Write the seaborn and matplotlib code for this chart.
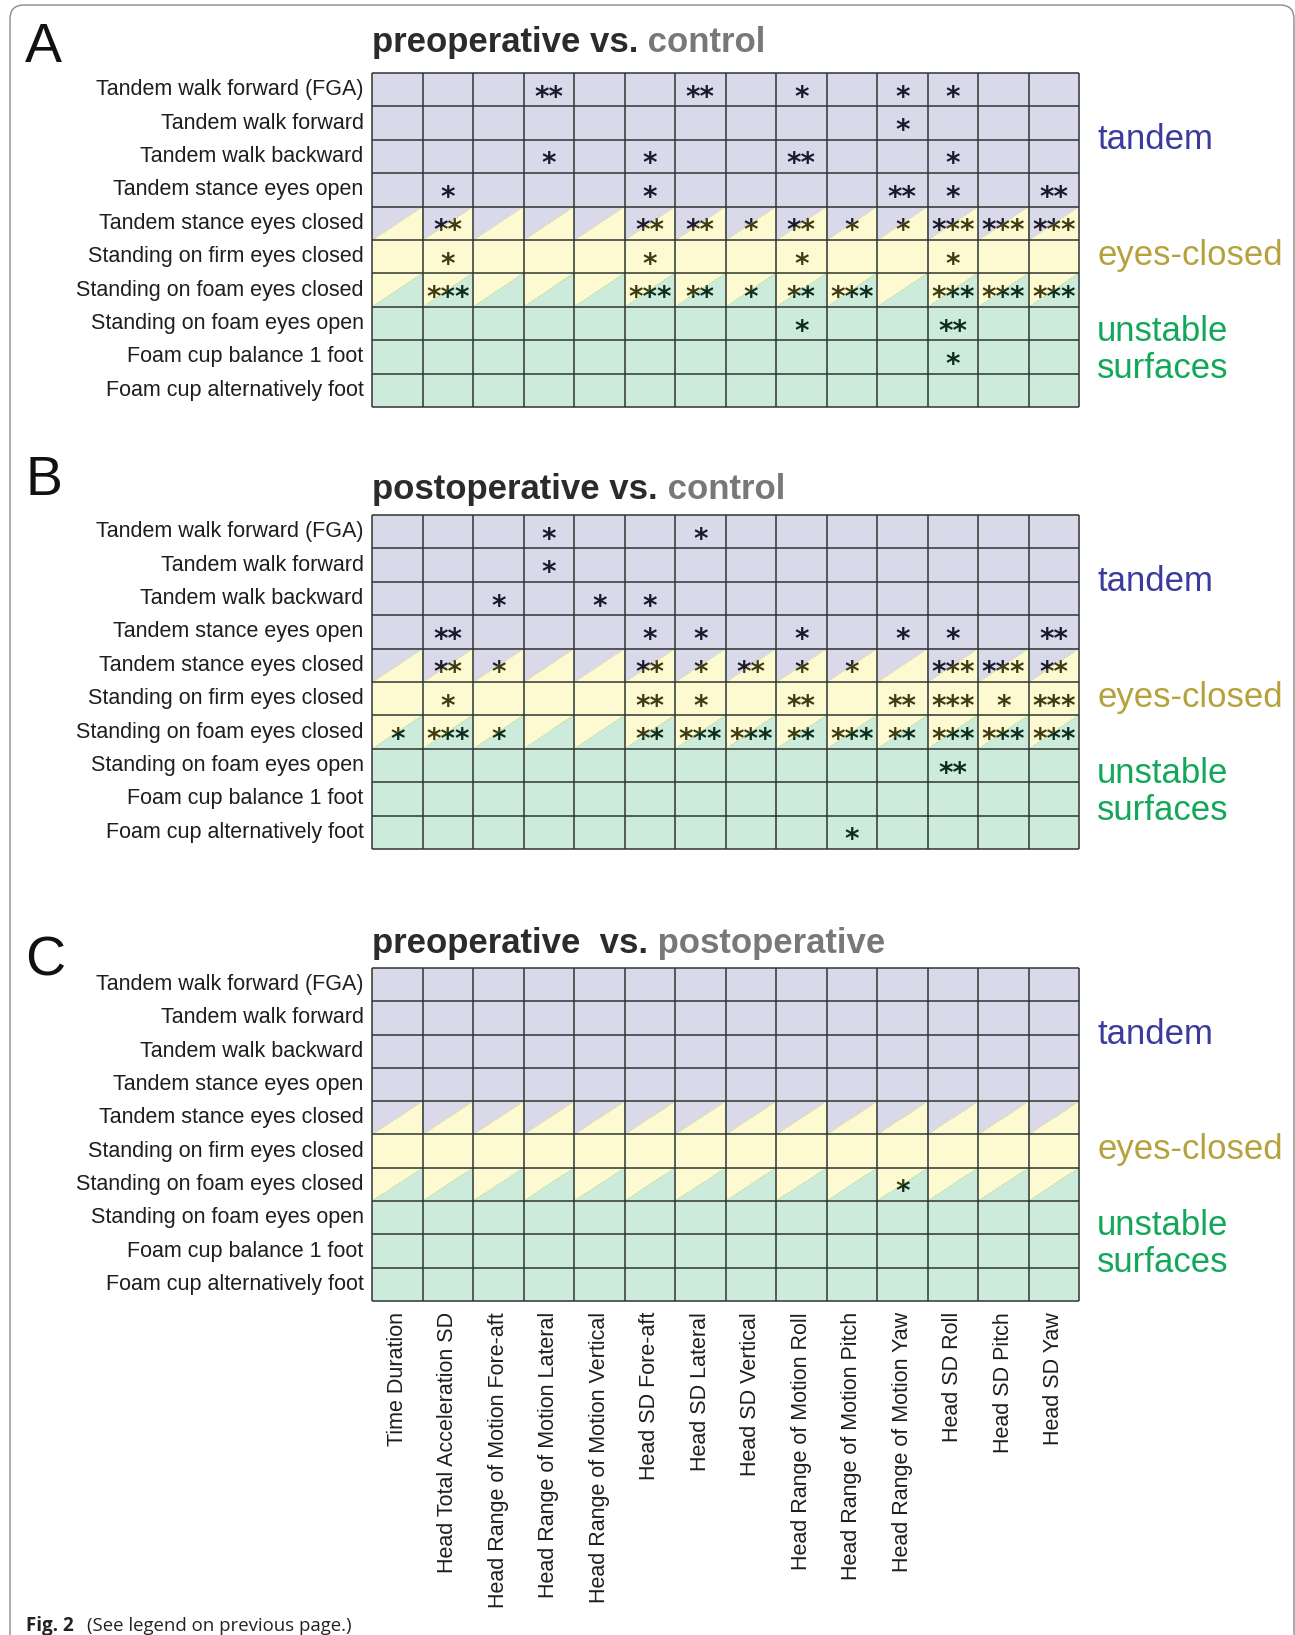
import numpy as np
import matplotlib
matplotlib.use('Agg')
import matplotlib.pyplot as plt
import seaborn as sns
from matplotlib.colors import ListedColormap, to_rgb
from matplotlib.patches import Polygon, FancyBboxPatch
from matplotlib.transforms import offset_copy, IdentityTransform

# ------------------------------------------
# data
# ------------------------------------------
tests = ['Tandem walk forward (FGA)', 'Tandem walk forward', 'Tandem walk backward',
         'Tandem stance eyes open', 'Tandem stance eyes closed',
         'Standing on firm eyes closed', 'Standing on foam eyes closed',
         'Standing on foam eyes open', 'Foam cup balance 1 foot',
         'Foam cup alternatively foot']

measures = ['Time Duration', 'Head Total Acceleration SD',
            'Head Range of Motion Fore-aft', 'Head Range of Motion Lateral',
            'Head Range of Motion Vertical', 'Head SD Fore-aft', 'Head SD Lateral',
            'Head SD Vertical', 'Head Range of Motion Roll',
            'Head Range of Motion Pitch', 'Head Range of Motion Yaw',
            'Head SD Roll', 'Head SD Pitch', 'Head SD Yaw']

# condition group of each test: 0 tandem, 1 eyes-closed, 2 unstable surfaces
# upper-left / lower-right half of the cell (same value = plain cell)
group_upper = [0, 0, 0, 0, 0, 1, 1, 2, 2, 2]
group_lower = [0, 0, 0, 0, 1, 1, 2, 2, 2, 2]
group_labels = ['tandem', 'eyes-closed', 'unstable', 'surfaces']
group_label_group = [0, 1, 2, 2]

# number of asterisks per test (rows) and measure (columns)
stars_pre_control = [
    [0, 0, 0, 2, 0, 0, 2, 0, 1, 0, 1, 1, 0, 0],
    [0, 0, 0, 0, 0, 0, 0, 0, 0, 0, 1, 0, 0, 0],
    [0, 0, 0, 1, 0, 1, 0, 0, 2, 0, 0, 1, 0, 0],
    [0, 1, 0, 0, 0, 1, 0, 0, 0, 0, 2, 1, 0, 2],
    [0, 2, 0, 0, 0, 2, 2, 1, 2, 1, 1, 3, 3, 3],
    [0, 1, 0, 0, 0, 1, 0, 0, 1, 0, 0, 1, 0, 0],
    [0, 3, 0, 0, 0, 3, 2, 1, 2, 3, 0, 3, 3, 3],
    [0, 0, 0, 0, 0, 0, 0, 0, 1, 0, 0, 2, 0, 0],
    [0, 0, 0, 0, 0, 0, 0, 0, 0, 0, 0, 1, 0, 0],
    [0, 0, 0, 0, 0, 0, 0, 0, 0, 0, 0, 0, 0, 0],
]
stars_post_control = [
    [0, 0, 0, 1, 0, 0, 1, 0, 0, 0, 0, 0, 0, 0],
    [0, 0, 0, 1, 0, 0, 0, 0, 0, 0, 0, 0, 0, 0],
    [0, 0, 1, 0, 1, 1, 0, 0, 0, 0, 0, 0, 0, 0],
    [0, 2, 0, 0, 0, 1, 1, 0, 1, 0, 1, 1, 0, 2],
    [0, 2, 1, 0, 0, 2, 1, 2, 1, 1, 0, 3, 3, 2],
    [0, 1, 0, 0, 0, 2, 1, 0, 2, 0, 2, 3, 1, 3],
    [1, 3, 1, 0, 0, 2, 3, 3, 2, 3, 2, 3, 3, 3],
    [0, 0, 0, 0, 0, 0, 0, 0, 0, 0, 0, 2, 0, 0],
    [0, 0, 0, 0, 0, 0, 0, 0, 0, 0, 0, 0, 0, 0],
    [0, 0, 0, 0, 0, 0, 0, 0, 0, 1, 0, 0, 0, 0],
]
stars_pre_post = [
    [0, 0, 0, 0, 0, 0, 0, 0, 0, 0, 0, 0, 0, 0],
    [0, 0, 0, 0, 0, 0, 0, 0, 0, 0, 0, 0, 0, 0],
    [0, 0, 0, 0, 0, 0, 0, 0, 0, 0, 0, 0, 0, 0],
    [0, 0, 0, 0, 0, 0, 0, 0, 0, 0, 0, 0, 0, 0],
    [0, 0, 0, 0, 0, 0, 0, 0, 0, 0, 0, 0, 0, 0],
    [0, 0, 0, 0, 0, 0, 0, 0, 0, 0, 0, 0, 0, 0],
    [0, 0, 0, 0, 0, 0, 0, 0, 0, 0, 1, 0, 0, 0],
    [0, 0, 0, 0, 0, 0, 0, 0, 0, 0, 0, 0, 0, 0],
    [0, 0, 0, 0, 0, 0, 0, 0, 0, 0, 0, 0, 0, 0],
    [0, 0, 0, 0, 0, 0, 0, 0, 0, 0, 0, 0, 0, 0],
]

# letter, dark title part, grey title part, stars
panels = [
    ('A', 'preoperative vs.', ' control', stars_pre_control),
    ('B', 'postoperative vs.', ' control', stars_post_control),
    ('C', 'preoperative  vs.', ' postoperative', stars_pre_post),
]

# ------------------------------------------
# layout (pixels)
# ------------------------------------------
W, H = 1295, 1635
grid_left, grid_right = 372, 1079
grid_tops = [73, 515, 968]
grid_bottoms = [407, 849, 1301]
letter_base = [62, 495, 975]
title_base = [52, 499, 953]
group_label_y = [2.28, 5.75, 8.02, 9.13]   # baseline, in row units

sns.set_style('white')
plt.rcParams['font.family'] = ['Liberation Sans', 'DejaVu Sans']

fig = plt.figure(figsize=(W / 100, H / 100), dpi=100)

# cells are translucent layers drawn over the asterisks, as in the original
alpha = 0.25
targets = ['#dadaea', '#fefad2', '#cdecdc']
cell_colors = [tuple((np.array(to_rgb(c)) - (1 - alpha)) / alpha) for c in targets]
cmap = ListedColormap(cell_colors)
label_colors = ['#3b3b9b', '#b6a23c', '#13a75a']

split = np.array(group_upper) != np.array(group_lower)
n_rows, n_cols = len(tests), len(measures)

def fx(x):
    return x / W

def fy(y):
    return 1 - y / H

renderer = fig.canvas.get_renderer()

for k, (letter, t_dark, t_grey, stars) in enumerate(panels):
    top, bottom = grid_tops[k], grid_bottoms[k]
    ax = fig.add_axes([fx(grid_left), fy(bottom), (grid_right - grid_left) / W, (bottom - top) / H])

    codes = np.array([[g] * n_cols for g in group_upper])
    annot = np.array([['*' * n for n in row] for row in stars])
    sns.heatmap(codes, cmap=cmap, vmin=-0.5, vmax=2.5, alpha=alpha, cbar=False,
                annot=annot, fmt='',
                annot_kws=dict(color='black', fontsize=20, fontweight='bold', family='DejaVu Sans'),
                xticklabels=measures if k == 2 else False, yticklabels=tests, ax=ax)

    mesh = ax.collections[0]
    mesh.set_array(np.ma.masked_where(np.repeat(split[:, None], n_cols, 1), codes))
    mesh.set_zorder(4)

    # diagonal split cells
    for i in np.where(split)[0]:
        for j in range(n_cols):
            ax.add_patch(Polygon([(j, i), (j + 1, i), (j, i + 1)], closed=True,
                                 facecolor=cell_colors[group_upper[i]], alpha=alpha,
                                 lw=0, antialiased=False, zorder=4))
            ax.add_patch(Polygon([(j, i + 1), (j + 1, i + 1), (j + 1, i)], closed=True,
                                 facecolor=cell_colors[group_lower[i]], alpha=alpha,
                                 lw=0, antialiased=False, zorder=4))

    ax.hlines(np.arange(n_rows + 1), 0, n_cols, colors='#2e3632', lw=1.1, zorder=5, clip_on=False)
    ax.vlines(np.arange(n_cols + 1), 0, n_rows, colors='#2e3632', lw=1.1, zorder=5, clip_on=False)

    # asterisk glyph sits high, move baseline down
    for t in ax.texts:
        t.set_va('baseline')
        t.set_transform(offset_copy(ax.transData, fig=fig, x=0, y=-16, units='dots'))

    ax.tick_params(axis='y', length=0, pad=6, labelsize=15.5, labelrotation=0, labelcolor='#1e1e1e')
    if k == 2:
        ax.tick_params(axis='x', length=0, pad=8, labelsize=15.5, labelrotation=90, labelcolor='#1e1e1e')

    for name, g, y in zip(group_labels, group_label_group, group_label_y):
        ax.text(n_cols + 0.36, y, name, fontsize=25, color=label_colors[g], va='baseline', ha='left')

    fig.text(fx(25), fy(letter_base[k]), letter, fontsize=40, color='#111111', va='baseline')
    t1 = fig.text(fx(grid_left), fy(title_base[k]), t_dark, fontsize=25, fontweight='bold',
                  color='#2b2b2b', va='baseline')
    bb = t1.get_window_extent(renderer)
    fig.text(bb.x1 / W, fy(title_base[k]), t_grey, fontsize=25, fontweight='bold',
             color='#787878', va='baseline')

# caption
fig.text(fx(26), fy(1631), 'Fig. 2', fontsize=13.5, fontweight='bold', family='Open Sans',
         color='#222222', va='baseline')
fig.text(fx(87), fy(1631), '(See legend on previous page.)', fontsize=13.4, family='Open Sans',
         color='#222222', va='baseline')

# rounded frame, open at the bottom
frame = FancyBboxPatch((10, -60), 1284, H - 5 + 60, boxstyle='round,pad=0,rounding_size=14',
                       transform=IdentityTransform(), fill=False, ec='#8a8a8a', lw=1.0)
fig.add_artist(frame)

fig.savefig('out.png', dpi=100)
